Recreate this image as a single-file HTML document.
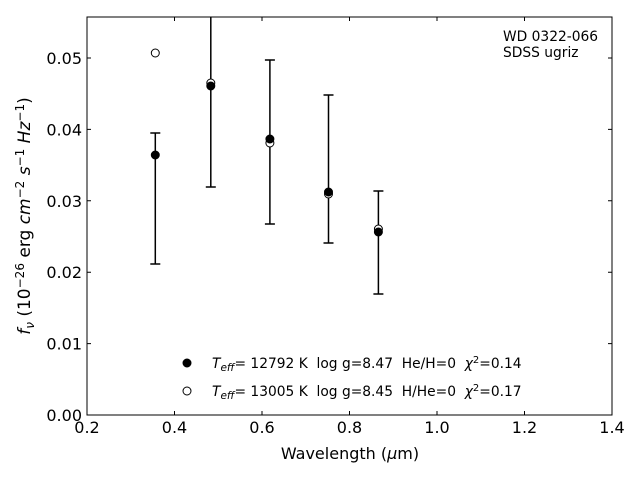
<!DOCTYPE html>
<html><head><style>body{margin:0;background:#fff}svg{display:block}text{font-family:"DejaVu Sans","Liberation Sans",sans-serif;fill:#000;white-space:pre}</style></head>
<body>
<svg width="640" height="480" viewBox="0 0 640 480" xmlns="http://www.w3.org/2000/svg">
<rect width="640" height="480" fill="#fff"/>
<g stroke="#000" stroke-width="1">
<path d="M87 415v-4M174.5 415v-4M262 415v-4M349.5 415v-4M437 415v-4M524.5 415v-4M612 415v-4M87 17v4M174.5 17v4M262 17v4M349.5 17v4M437 17v4M524.5 17v4M612 17v4"/>
<path d="M87 415h4M87 343.6h4M87 272.2h4M87 200.8h4M87 129.4h4M87 58h4M612 415h-4M612 343.6h-4M612 272.2h-4M612 200.8h-4M612 129.4h-4M612 58h-4"/>
</g>
<g stroke="#000" stroke-width="1.5" fill="none">
<path d="M155.3 264V133M150.3 264h10M150.3 133h10"/>
<path d="M210.8 17V187M205.8 187h10"/>
<path d="M269.9 224V60M264.9 224h10M264.9 60h10"/>
<path d="M328.5 243V95M323.5 243h10M323.5 95h10"/>
<path d="M378.4 294V191M373.4 294h10M373.4 191h10"/>
</g>
<g fill="#fff" stroke="#000" stroke-width="1">
<circle cx="155.3" cy="53" r="4"/>
<circle cx="210.8" cy="83" r="4"/>
<circle cx="269.9" cy="143" r="4"/>
<circle cx="328.5" cy="194" r="4"/>
<circle cx="378.4" cy="229" r="4"/>
</g>
<g fill="#000" stroke="#000" stroke-width="1">
<circle cx="155.3" cy="155" r="4"/>
<circle cx="210.8" cy="86" r="4"/>
<circle cx="269.9" cy="139" r="4"/>
<circle cx="328.5" cy="192" r="4"/>
<circle cx="378.4" cy="232" r="4"/>
<circle cx="187" cy="363" r="4"/>
</g>
<circle cx="187" cy="391" r="4" fill="#fff" stroke="#000"/>
<rect x="87" y="17" width="525" height="398" fill="none" stroke="#000" stroke-width="1"/>
<g font-size="16" text-anchor="middle">
<text x="87" y="433">0.2</text><text x="174.5" y="433">0.4</text><text x="262" y="433">0.6</text><text x="349.5" y="433">0.8</text><text x="437" y="433">1.0</text><text x="524.5" y="433">1.2</text><text x="612" y="433">1.4</text>
</g>
<g font-size="16" text-anchor="end">
<text x="82" y="421">0.00</text><text x="82" y="349.6">0.01</text><text x="82" y="278.2">0.02</text><text x="82" y="206.8">0.03</text><text x="82" y="135.4">0.04</text><text x="82" y="64">0.05</text>
</g>
<text x="350" y="459" font-size="16" text-anchor="middle">Wavelength (<tspan font-style="italic">μ</tspan>m)</text>
<text transform="translate(30 216) rotate(-90)" font-size="17" text-anchor="middle"><tspan font-style="italic">f</tspan><tspan font-style="italic" font-size="12" dy="4">ν</tspan><tspan dy="-4"> (10</tspan><tspan font-size="12" dy="-6">−26</tspan><tspan dy="6"> erg </tspan><tspan font-style="italic">cm</tspan><tspan font-size="12" dy="-6">−2</tspan><tspan dy="6"> </tspan><tspan font-style="italic">s</tspan><tspan font-size="12" dy="-6">−1</tspan><tspan dy="6"> </tspan><tspan font-style="italic">Hz</tspan><tspan font-size="12" dy="-6">−1</tspan><tspan dy="6">)</tspan></text>
<text x="503" y="41" font-size="13.8">WD 0322-066</text>
<text x="503" y="57" font-size="13.8">SDSS ugriz</text>
<text x="212" y="368" font-size="13.8"><tspan font-style="italic">T</tspan><tspan font-style="italic" font-size="10.5" dy="3">eff</tspan><tspan dy="-3">= 12792 K&#160; log g=8.47&#160; He/H=0&#160; </tspan><tspan font-style="italic">χ</tspan><tspan font-size="10" dy="-5">2</tspan><tspan dy="5">=0.14</tspan></text>
<text x="212" y="396" font-size="13.8"><tspan font-style="italic">T</tspan><tspan font-style="italic" font-size="10.5" dy="3">eff</tspan><tspan dy="-3">= 13005 K&#160; log g=8.45&#160; H/He=0&#160; </tspan><tspan font-style="italic">χ</tspan><tspan font-size="10" dy="-5">2</tspan><tspan dy="5">=0.17</tspan></text>
</svg>
</body></html>
